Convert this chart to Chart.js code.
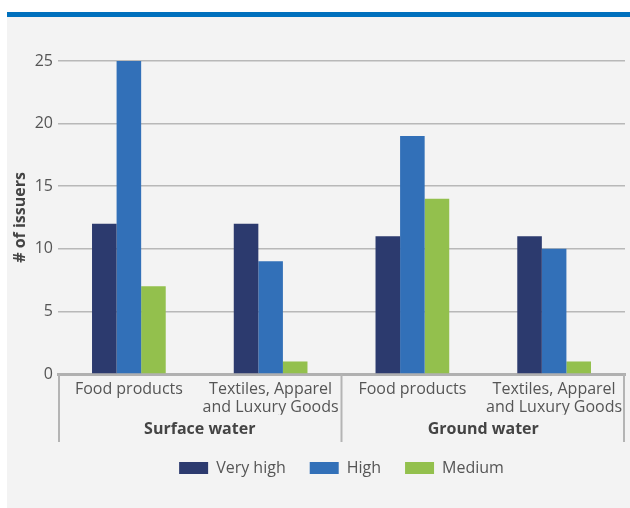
<!DOCTYPE html>
<html>
<head>
<meta charset="utf-8">
<script src="https://cdn.jsdelivr.net/npm/chart.js@4"></script>
<style>
  html, body { margin: 0; padding: 0; background: #fff; }
  #panel {
    position: absolute; left: 7px; top: 12px;
    width: 623px; height: 491px;
    background: #f3f3f3;
    border-top: 5px solid #0070bd;
  }
  #chart { display: block; }
</style>
</head>
<body>
<div id="panel"><canvas id="chart" width="623" height="491"></canvas></div>
<script>
// categories
const sectors = [["Food products"], ["Textiles, Apparel", "and Luxury Goods"], ["Food products"], ["Textiles, Apparel", "and Luxury Goods"]];
const waterTypes = ["Surface water", "Ground water"];

// values (# of issuers)
const veryHigh = [12, 12, 11, 11];
const high = [25, 9, 19, 10];
const medium = [7, 1, 14, 1];

const yTicks = [0, 5, 10, 15, 20, 25];

Chart.defaults.font.family = "'Open Sans', sans-serif";
Chart.defaults.font.size = 16;
Chart.defaults.color = '#555';

// vertical separators under the x axis
const separators = {
  id: 'separators',
  afterDraw(chart) {
    const ctx = chart.ctx;
    const x2 = chart.scales.x2;
    const top = chart.chartArea.bottom;
    const bottom = top + 68;
    const mid = (x2.getPixelForValue(0) + x2.getPixelForValue(1)) / 2;
    ctx.save();
    ctx.strokeStyle = '#b4b4b4';
    ctx.lineWidth = 2;
    [x2.left + 1, mid, x2.right - 1].forEach(x => {
      ctx.beginPath();
      ctx.moveTo(x, top);
      ctx.lineTo(x, bottom);
      ctx.stroke();
    });
    ctx.restore();
  }
};

new Chart(document.getElementById('chart'), {
  type: 'bar',
  data: {
    labels: sectors,
    datasets: [
      { label: 'Very high', data: veryHigh, backgroundColor: '#2c3a6e' },
      { label: 'High', data: high, backgroundColor: '#3270b8' },
      { label: 'Medium', data: medium, backgroundColor: '#93c04d' }
    ]
  },
  options: {
    responsive: false,
    animation: false,
    barPercentage: 1,
    categoryPercentage: 0.52,
    layout: { padding: { top: 44, right: 5, bottom: 22, left: 0 } },
    scales: {
      x: {
        grid: { display: false },
        border: { display: true, color: '#b0b0b0', width: 3 },
        ticks: { color: '#555', padding: -2, maxRotation: 0, minRotation: 0, autoSkip: false, font: { size: 16, lineHeight: 1.15 } }
      },
      x2: {
        type: 'category',
        labels: waterTypes,
        position: 'bottom',
        grid: { display: false },
        border: { display: false },
        ticks: { color: '#444', padding: 0, maxRotation: 0, font: { size: 16, weight: 'bold', lineHeight: 0.825 } }
      },
      y: {
        min: 0,
        max: 25,
        afterBuildTicks: axis => { axis.ticks = yTicks.map(v => ({ value: v })); },
        afterFit: axis => { axis.width = 51; },
        grid: { color: '#b8b8b8', lineWidth: 1.5, drawTicks: false },
        border: { display: false },
        ticks: { color: '#555', padding: 5 },
        title: { display: true, text: '# of issuers', color: '#444', font: { size: 16, weight: 'bold' }, padding: { top: 4 } }
      }
    },
    plugins: {
      legend: {
        position: 'bottom',
        fullSize: false,
        labels: { boxWidth: 29, boxHeight: 12, padding: 24, color: '#555', font: { size: 16 } }
      },
      tooltip: { enabled: false }
    }
  },
  plugins: [separators]
});
</script>
</body>
</html>
